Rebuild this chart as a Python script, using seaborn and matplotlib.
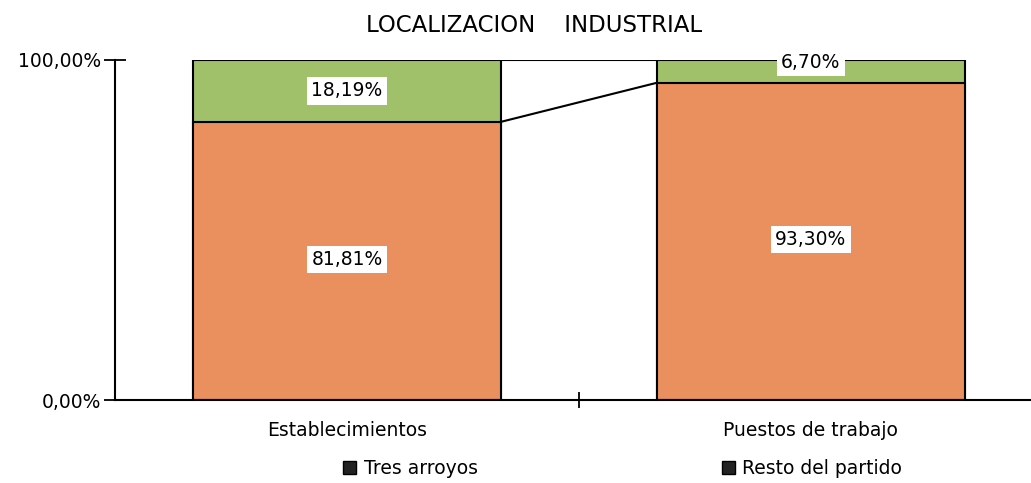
import matplotlib
matplotlib.use("Agg")
import matplotlib.pyplot as plt
import seaborn as sns
import pandas as pd
from matplotlib.patches import Patch

categorias = ["Establecimientos", "Puestos de trabajo"]
tres_arroyos = [81.81, 93.30]
resto_partido = [18.19, 6.70]
series = ["Tres arroyos", "Resto del partido"]

COL_TA = "#EA905E"
COL_RP = "#A0C16A"
BAR_W = 0.664

sns.set_theme(style="white")
plt.rcParams["font.family"] = ["DejaVu Sans"]
plt.rcParams["text.color"] = "black"
plt.rcParams["xtick.color"] = "black"
plt.rcParams["ytick.color"] = "black"

df = pd.DataFrame({"cat": categorias, "ta": tres_arroyos, "rp": resto_partido})
df["total"] = df["ta"] + df["rp"]

fig = plt.figure(figsize=(10.31, 4.83), dpi=100)
ax = fig.add_axes([0.1115, 0.1718, 0.900, 0.704])

sns.barplot(data=df, x="cat", y="total", color=COL_RP, width=BAR_W,
            edgecolor="black", linewidth=1.5, saturation=1, ax=ax)
sns.barplot(data=df, x="cat", y="ta", color=COL_TA, width=BAR_W,
            edgecolor="black", linewidth=1.5, saturation=1, ax=ax)

# series lines (Excel style)
ax.plot([BAR_W / 2, 1 - BAR_W / 2], [df["ta"][0], df["ta"][1]], color="black", lw=1.5)
ax.plot([BAR_W / 2, 1 - BAR_W / 2], [df["total"][0], df["total"][1]], color="black", lw=1.5)

box = dict(facecolor="white", edgecolor="none", pad=3)
for i, (ta, rp) in enumerate(zip(tres_arroyos, resto_partido)):
    ax.text(i, ta / 2 + 0.5, f"{ta:.2f}%".replace(".", ","), ha="center", va="center",
            fontsize=13.5, bbox=box)
    y_rp = ta + rp / 2 if rp > 10 else 99.4
    ax.text(i, y_rp, f"{rp:.2f}%".replace(".", ","), ha="center", va="center",
            fontsize=13.5, bbox=box)

ax.set_xlim(-0.5, 1.5)
ax.set_ylim(0, 100)
ax.set_yticks([0, 100])
ax.set_yticklabels(["0,00%", "100,00%"], fontsize=13.5)
ax.set_xticks([0, 1])
ax.set_xticklabels(categorias, fontsize=13.5)
ax.set_xticks([0.5], minor=True)
ax.tick_params(axis="x", which="major", bottom=True, length=0, pad=15)
ax.tick_params(axis="x", which="minor", bottom=True, length=12, width=1.3, direction="inout")
ax.tick_params(axis="y", which="major", left=True, length=16, width=1.3, direction="inout", pad=2)
ax.set_xlabel("")
ax.set_ylabel("")
for s in ["top", "right"]:
    ax.spines[s].set_visible(False)
for s in ["left", "bottom"]:
    ax.spines[s].set_color("black")
    ax.spines[s].set_linewidth(1.5)

ax.set_title("LOCALIZACION    INDUSTRIAL", fontsize=16.5, pad=20, x=0.452)

handles = [Patch(facecolor="#222222", edgecolor="black", label=series[0]),
           Patch(facecolor="#222222", edgecolor="black", label=series[1])]
fig.legend(handles=handles, loc="center left", bbox_to_anchor=(0.333, 0.03), ncol=2,
           frameon=False, fontsize=13.5, handlelength=0.7, handleheight=0.7,
           handletextpad=0.4, columnspacing=13.0, borderaxespad=0, borderpad=0)

fig.savefig("out.png", dpi=100)
